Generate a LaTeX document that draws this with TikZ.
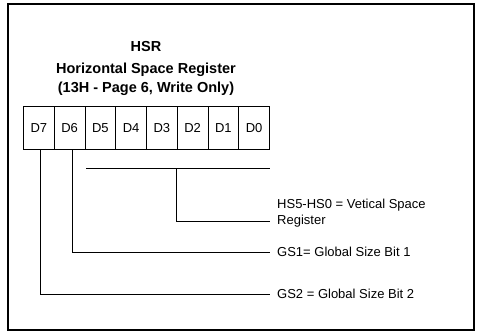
\documentclass[tikz,border=0pt]{standalone}
\usepackage{fontspec}
\setmainfont{Liberation Sans}
\begin{document}
\begin{tikzpicture}[x=1pt,y=-1pt,
  frame/.style={draw=black,line width=1.2pt},
  cell/.style={draw=black,line width=0.9pt,minimum width=30.75pt,minimum height=43pt,inner sep=0pt,font=\fontsize{13}{15}\selectfont,anchor=north west},
  title/.style={font=\fontsize{14.5}{16}\bfseries\selectfont,inner sep=0pt},
  lab/.style={font=\fontsize{13}{15.5}\selectfont,inner sep=0pt,anchor=west,align=left},
  wire/.style={draw=black,line width=0.8pt}]
\useasboundingbox (0,0) rectangle (480,333);
\draw[frame] (8,4) rectangle (474,330);
\node[title] (t1) at (146,47) {HSR};
\node[title] (t2) at (146,70) {Horizontal Space Register};
\node[title] (t3) at (146,89) {(13H - Page 6, Write Only)};
\foreach \i/\n in {0/7,1/6,2/5,3/4,4/3,5/2,6/1,7/0}{
  \node[cell] (d\n) at (23+\i*30.75,106) {D\n};
}
\coordinate (b1a) at (86,168);
\coordinate (b1b) at (270,168);
\coordinate (b1m) at (176.7,168);
\coordinate (b1c) at (176.7,221);
\coordinate (b1d) at (270,221);
\draw[wire] (b1a) -- (b1b);
\draw[wire] (b1m) -- (b1c) -- (b1d);
\node[lab] (l1) at (277,213) {HS5-HS0 = Vetical Space\\Register};
\coordinate (c6) at (72.3,252);
\coordinate (e6) at (270,252);
\draw[wire] (d6.south -| c6) -- (c6) -- (e6);
\node[lab] (l2) at (277,252) {GS1= Global Size Bit 1};
\coordinate (c7) at (40,294);
\coordinate (e7) at (270,294);
\draw[wire] (d7.south -| c7) -- (c7) -- (e7);
\node[lab] (l3) at (277,294) {GS2 = Global Size Bit 2};
\end{tikzpicture}
\end{document}
